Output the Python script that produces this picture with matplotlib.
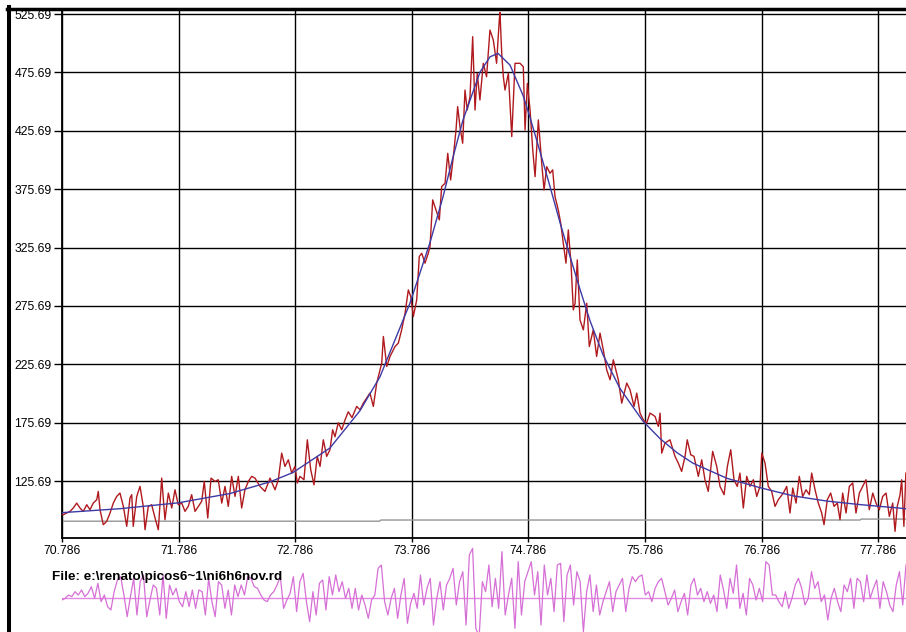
import numpy as np
import matplotlib
matplotlib.use('Agg')
import matplotlib.pyplot as plt
from matplotlib.lines import Line2D

plt.rcParams['font.family'] = ['Liberation Sans', 'DejaVu Sans']

# ---------------- data ----------------
xticks = [70.786, 71.786, 72.786, 73.786, 74.786, 75.786, 76.786, 77.786]
xtick_labels = ['70.786', '71.786', '72.786', '73.786', '74.786', '75.786', '76.786', '77.786']
yticks = [125.69, 175.69, 225.69, 275.69, 325.69, 375.69, 425.69, 475.69, 525.69]
ytick_labels = ['125.69', '175.69', '225.69', '275.69', '325.69', '375.69', '425.69', '475.69', '525.69']

# observed intensity (red), in segments
obs_x_a = [70.786, 70.797, 70.826, 70.855, 70.883, 70.912, 70.940, 70.969, 70.998, 71.026,
           71.054, 71.084, 71.097, 71.112, 71.140, 71.169, 71.198, 71.226, 71.255, 71.283,
           71.312, 71.341, 71.369, 71.384, 71.397, 71.427, 71.455, 71.483, 71.498, 71.526,
           71.555, 71.584, 71.612, 71.641, 71.669, 71.698, 71.727, 71.755, 71.783, 71.813,
           71.841, 71.869, 71.898, 71.927, 71.955, 71.984, 72.006, 72.036, 72.064, 72.098,
           72.126, 72.156, 72.184, 72.212, 72.241, 72.270, 72.298, 72.327, 72.355, 72.384,
           72.413, 72.441, 72.484, 72.527, 72.570, 72.613, 72.641, 72.670, 72.698, 72.727,
           72.756, 72.784, 72.804, 72.827, 72.861, 72.890, 72.919, 72.947, 72.975, 72.999,
           73.027, 73.056, 73.084, 73.107, 73.127, 73.155, 73.185, 73.213, 73.241, 73.273]
obs_y_a = [97.0, 96.9, 98.3, 99.7, 102.6, 106.8, 102.6, 99.7, 105.4, 101.1,
           106.8, 109.7, 116.8, 101.1, 88.3, 91.1, 98.3, 106.8, 112.5, 115.4,
           104.0, 86.9, 111.1, 114.0, 86.9, 112.5, 121.1, 104.0, 84.0, 104.0,
           105.4, 94.0, 84.0, 128.2, 92.6, 115.4, 102.6, 118.2, 105.4, 106.8,
           99.7, 104.0, 114.0, 99.7, 104.0, 108.3, 125.4, 94.0, 128.2, 125.4,
           126.8, 106.8, 121.1, 104.0, 129.7, 112.5, 129.7, 102.6, 118.2, 125.4,
           129.7, 128.2, 121.1, 116.8, 128.2, 118.2, 126.8, 149.6, 138.2, 143.9,
           132.5, 138.2, 124.0, 129.7, 126.8, 161.0, 135.4, 122.5, 146.8, 138.2,
           161.0, 146.8, 152.5, 169.6, 163.6, 175.6, 169.6, 178.0, 185.0, 180.0]

obs_x_b = [73.313, 73.342, 73.370, 73.427, 73.456, 73.485, 73.528, 73.542, 73.571, 73.599,
           73.642, 73.670, 73.699, 73.728, 73.756, 73.777, 73.799, 73.828, 73.850, 73.871,
           73.899, 73.927, 73.942, 73.965, 73.993, 74.022, 74.042, 74.071, 74.094, 74.119,
           74.142, 74.165, 74.179, 74.199, 74.222, 74.242, 74.261, 74.285, 74.308, 74.328,
           74.347, 74.370, 74.399, 74.427, 74.456, 74.485, 74.513, 74.536]
obs_y_b = [189.6, 186.7, 192.4, 201.0, 189.6, 209.6, 226.7, 249.5, 223.8, 232.4,
           240.9, 243.8, 255.2, 269.5, 289.4, 283.7, 266.6, 280.9, 318.0, 320.8,
           312.3, 320.8, 326.5, 366.5, 357.9, 349.4, 377.9, 380.7, 406.4, 383.6,
           403.6, 426.4, 446.4, 429.2, 415.0, 460.6, 443.5, 454.9, 506.3, 443.5,
           474.9, 452.1, 483.5, 472.0, 512.0, 503.4, 483.5, 520.5]

obs_x_c = [74.542, 74.557, 74.571, 74.585, 74.614, 74.643, 74.671, 74.714, 74.742, 74.757,
           74.777, 74.800, 74.823, 74.843, 74.871, 74.900, 74.920, 74.943, 74.971, 74.994,
           75.014, 75.042, 75.063, 75.085, 75.108, 75.128, 75.151, 75.171, 75.186, 75.205,
           75.228, 75.257, 75.286, 75.308, 75.342, 75.371, 75.400, 75.428, 75.457, 75.486,
           75.514, 75.557, 75.586, 75.629, 75.657, 75.692, 75.715, 75.743, 75.771, 75.800,
           75.829, 75.872, 75.900]
obs_y_c = [527.0, 492.0, 472.0, 460.6, 474.9, 420.7, 483.5, 483.5, 480.6, 426.4,
           466.3, 443.5, 409.3, 386.4, 435.0, 397.9, 375.0, 395.0, 389.3, 392.2,
           369.3, 357.9, 346.5, 329.4, 312.3, 340.8, 312.3, 272.3, 278.0, 315.1,
           263.8, 255.2, 278.0, 240.9, 255.2, 232.4, 252.4, 238.1, 221.0, 212.4,
           229.5, 212.4, 192.4, 209.6, 203.9, 189.6, 201.0, 183.9, 178.2, 175.3,
           183.9, 181.0, 172.5]

obs_x_d = [75.915, 75.929, 75.957, 76.000, 76.043, 76.071, 76.100, 76.129, 76.148, 76.178,
           76.206, 76.243, 76.272, 76.300, 76.328, 76.366, 76.401, 76.429, 76.464, 76.492,
           76.521, 76.549, 76.577, 76.600, 76.629, 76.658, 76.686, 76.715, 76.744, 76.772,
           76.787, 76.815, 76.843, 76.872, 76.901, 76.929, 76.972, 77.001, 77.029, 77.053,
           77.081, 77.109, 77.138, 77.167, 77.195, 77.215, 77.244, 77.272, 77.301, 77.321,
           77.349, 77.378, 77.407, 77.435, 77.458, 77.481, 77.510, 77.538, 77.567, 77.595,
           77.624, 77.653, 77.681, 77.709, 77.739, 77.767, 77.795, 77.824, 77.853, 77.881,
           77.910, 77.930, 77.949, 77.973, 77.987, 78.006, 78.023]
obs_y_d = [183.9, 149.6, 158.2, 161.0, 146.8, 141.1, 133.9, 146.8, 161.0, 148.2,
           146.8, 129.7, 143.9, 126.8, 116.8, 151.1, 138.2, 121.1, 114.0, 138.2,
           152.5, 126.8, 121.1, 132.5, 102.6, 129.7, 121.1, 126.8, 112.5, 121.1,
           149.6, 141.1, 121.1, 116.8, 104.0, 109.7, 115.4, 121.1, 98.3, 119.7,
           106.8, 129.7, 112.5, 118.2, 114.0, 132.5, 118.2, 106.8, 98.3, 88.3,
           109.7, 115.4, 104.0, 106.8, 92.6, 115.4, 98.3, 121.1, 124.0, 98.3,
           115.4, 121.1, 126.8, 101.1, 115.4, 106.8, 101.1, 112.5, 115.4, 95.4,
           106.8, 82.6, 104.0, 114.0, 126.8, 86.9, 132.5]

# fitted profile (blue)
fit_x = [70.786, 71.283, 71.781, 72.227, 72.570, 72.767, 73.084, 73.342, 73.513, 73.770,
         73.942, 74.053, 74.139, 74.225, 74.371, 74.456, 74.525, 74.628, 74.740, 74.800,
         74.885, 74.971, 75.057, 75.143, 75.228, 75.314, 75.425, 75.571, 75.768, 75.915,
         76.060, 76.197, 76.489, 76.772, 77.055, 77.347, 77.630, 77.913, 78.024]
fit_y = [98.6, 102.0, 107.0, 115.0, 125.0, 133.0, 154.0, 186.0, 215.0, 278.0,
         330.0, 369.0, 403.0, 435.0, 476.0, 489.0, 492.0, 482.0, 456.0, 437.0,
         408.0, 378.0, 347.0, 318.0, 290.0, 263.0, 234.0, 205.0, 177.0, 162.0,
         150.0, 141.0, 128.0, 120.0, 113.0, 108.5, 105.5, 103.0, 102.0]

# background (grey)
base_x = [70.786, 73.510, 73.520, 77.630, 77.640, 78.024]
base_y = [91.3, 91.3, 92.3, 92.3, 93.1, 93.1]

# residuals (violet), arbitrary units, evenly spaced along x
res_a = [-5, 0, 10, 5, 20, 10, 25, 5, 15, 35,
         0, 45, -10, 10, -25, -35, 20, 55, 65, 10,
         -55, 5, 60, -50, 50, 70, -55, -5, 40, 30,
         -50, 70, -60, 40, 10, 30, -10, -25, 20, -25,
         25, -30, 25, 20, -50, 60, -10, -55, 50, 40,
         -30, 25, -50, 40, 5, 40, 10, 65, 60, 35,
         30, 10, -5, -10, 10, 20, 40, 65, -30, -5,
         15, 65, -40, 50, 75, -10, -70, 20, -50, 45,
         55, -35, 65, 10, 70, 20, 50, 0, 30, -30,
         30, -35, 10, -20, -60, -5, 10, 90, 100, -10,
         -50, 0, 30, -60, 10, 60, -75, -15, 15, -30,
         70, -20, 30, 60, -80, 0, 50, -35, 40, 60,
         90, -20, 50, 80, -80, 130, 150, -90, -115]
res_b = [50, 20, 100, -25, 60, -30, 140, -50, 10, 60,
         -90, 110, -50, 50, 80, 110, 10, 80, -80, 100,
         10, 60, -40, 100, 105, -70, 70, 100, -20, 80,
         50, -100, 20, 70, -40, 40, -50, -10, 20, 50,
         -40, 20, 40, 60, -40, 30, 65, 50, 65, 70,
         10, 20, -10, 30, 50, 60, 20, -20, 0, 25,
         -40, -10, 15, -50, 40, 60, 10, 30, -10, 20,
         -15, 10, -40, 70, 25, -30, 60, 15, 100, -30,
         15, -50, 60, 40, -5, 30, -10, 110, 100, 10,
         10, -10, -25, 20, -30, 0, 40, 60, 30, -20,
         0, 80, 30, 50, -10, 10, -65, 0, 30, -10,
         -40, 40, 20, 60, -30, 60, 50, -10, 70, 0,
         30, 55, -30, 50, 20, -20, -40, 40, 80, -20,
         100]

# ---------------- drawing ----------------
obs_x = np.array(obs_x_a + obs_x_b + obs_x_c + obs_x_d)
obs_y = np.array(obs_y_a + obs_y_b + obs_y_c + obs_y_d)
res = np.array(res_a + res_b, dtype=float)
res_x = np.linspace(xticks[0], 78.024, len(res))

W, H = 906, 632
fig = plt.figure(figsize=(W / 100, H / 100), dpi=100)
fig.patch.set_facecolor('white')

ax = fig.add_axes([62 / W, 1 - 538 / H, 844 / W, (538 - 11) / H])
ax.plot(base_x, base_y, color='#959595', lw=1.0, zorder=2)
ax.plot(obs_x, obs_y, color='#b01a1e', lw=1.0, zorder=3)
ax.plot(fit_x, fit_y, color='#3d3aa6', lw=1.0, zorder=4)
ax.set_xlim(70.786, 78.024)
ax.set_ylim(76.9, 528.3)
ax.set_xticks(xticks)
ax.set_xticklabels(xtick_labels)
ax.set_yticks(yticks)
ax.set_yticklabels(ytick_labels)
ax.grid(True, color='black', lw=1.0)
ax.set_axisbelow(True)
for s in ['top', 'right']:
    ax.spines[s].set_visible(False)
for s in ['left', 'bottom']:
    ax.spines[s].set_linewidth(1.3)
ax.tick_params(axis='x', length=3, width=1, pad=2, labelsize=8.8)
ax.tick_params(axis='y', length=6, width=1, pad=1.5, labelsize=8.8)

rax = fig.add_axes([62 / W, 0, 844 / W, 87 / H])
rax.axhline(0, color='#e28ae2', lw=1.0)
rax.plot(res_x, res, color='#d66fd6', lw=0.9)
rax.set_xlim(70.786, 78.024)
rax.set_ylim(-101, 160)
rax.axis('off')

fig.text(52 / W, 1 - 577 / H, 'File: e:\\renato\\picos6~1\\ni6h6nov.rd',
         fontsize=9.7, fontweight='bold', ha='left', va='center', color='black')

fig.add_artist(Line2D([8.5 / W, 8.5 / W], [0, 1 - 7 / H], color='black', lw=2.9,
                      transform=fig.transFigure))
fig.add_artist(Line2D([7 / W, 1], [1 - 8.7 / H, 1 - 8.7 / H], color='black', lw=2.5,
                      transform=fig.transFigure))

fig.savefig('out.png', dpi=100)
